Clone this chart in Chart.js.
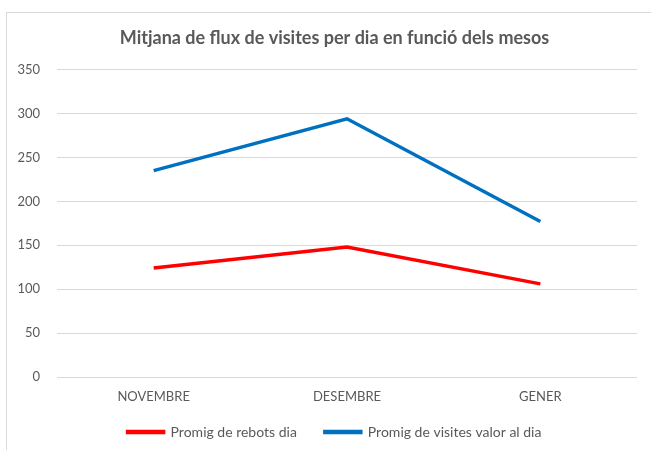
<!DOCTYPE html>
<html><head><meta charset="utf-8">
<script src="https://cdn.jsdelivr.net/npm/chart.js@4"></script>
<style>
html,body{margin:0;padding:0;background:#fff;overflow:hidden;width:651px;height:450px;}
#frame{position:absolute;left:6px;top:12px;width:700px;height:460px;border:1px solid #d9d9d9;box-sizing:border-box;}
#wrap{position:absolute;left:0;top:0;width:651px;height:450px;}
</style></head><body>
<div id="frame"></div>
<div id="wrap"><canvas id="c" width="651" height="450"></canvas></div>
<script>
const months = ["NOVEMBRE", "DESEMBRE", "GENER"];
const rebots = [124, 148, 106];
const visites = [235, 294, 177];
const seriesNames = ["Promig de rebots dia", "Promig de visites valor al dia"];
const titleText = "Mitjana de flux de visites per dia en funció dels mesos";
const FONT = "Lato, 'Open Sans', sans-serif";

// Layout adjustment: let x tick labels overhang into the legend band,
// and centre title + legend on the whole frame (which extends past the right edge).
const layoutTweak = {
  id: 'layoutTweak',
  afterLayout(chart) {
    const x = chart.scales.x;
    x.bottom = x.top + 40; x.height = 40;
    [chart.legend, chart.titleBlock].forEach(b => { if (b) { b.left += 16; b.right += 16; } });
  }
};

new Chart(document.getElementById('c'), {
  type: 'line',
  data: {
    labels: months,
    datasets: [
      {label: seriesNames[0], data: rebots, borderColor: '#ff0000', backgroundColor: '#ff0000', borderWidth: 3.5, pointRadius: 0, tension: 0},
      {label: seriesNames[1], data: visites, borderColor: '#0070c0', backgroundColor: '#0070c0', borderWidth: 3.5, pointRadius: 0, tension: 0}
    ]
  },
  plugins: [layoutTweak],
  options: {
    responsive: false,
    animation: false,
    layout: {padding: {left: 0, right: 14, top: 0, bottom: 1}},
    plugins: {
      title: {display: true, text: titleText, color: '#595959', font: {family: FONT, size: 18, weight: 'bold'}, padding: {top: 27, bottom: 21}},
      legend: {position: 'bottom', labels: {color: '#595959', font: {family: FONT, size: 14}, boxWidth: 36, boxHeight: 1, padding: 28}},
      tooltip: {enabled: false}
    },
    scales: {
      x: {
        offset: true,
        grid: {display: false, tickLength: 0},
        border: {display: false},
        ticks: {color: '#595959', font: {family: FONT, size: 13}, padding: 12},
        afterFit: s => { s.height = 20; }
      },
      y: {
        min: 0, max: 350,
        ticks: {stepSize: 50, color: '#595959', font: {family: FONT, size: 13}, padding: 17},
        grid: {color: '#d9d9d9', lineWidth: 1, drawTicks: false},
        border: {display: false},
        afterFit: s => { s.width = 57; }
      }
    }
  }
});
</script>
</body></html>
